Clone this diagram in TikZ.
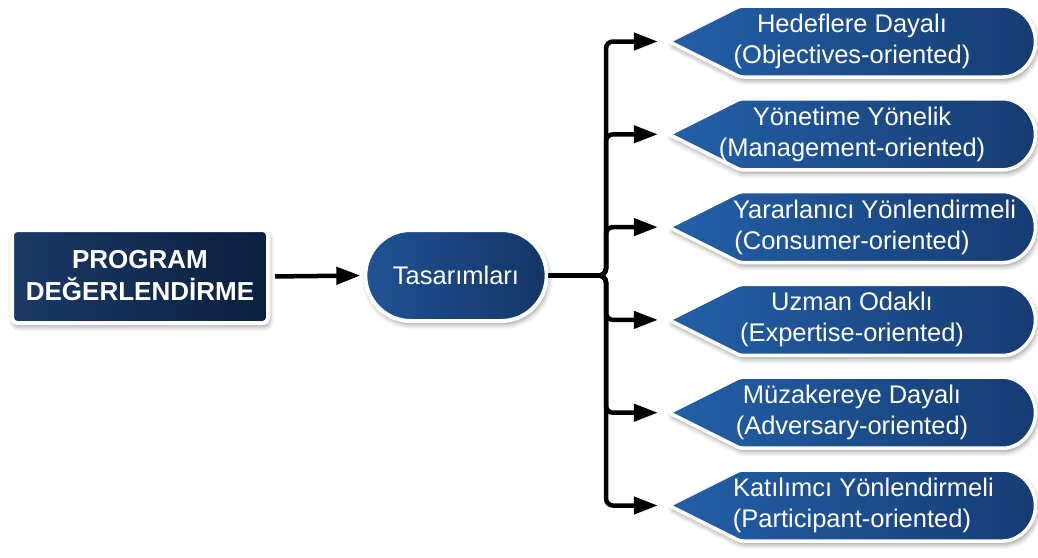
\documentclass[tikz,border=0pt]{standalone}
\usepackage{fontspec}
\setmainfont{Liberation Sans}
\usetikzlibrary{arrows.meta,shapes.misc,shadows.blur}
\definecolor{boxL}{HTML}{1A3A66}
\definecolor{boxR}{HTML}{0C1F3E}
\definecolor{tasL}{HTML}{1F5294}
\definecolor{tasR}{HTML}{143666}
\definecolor{shpL}{HTML}{2360A8}
\definecolor{shpR}{HTML}{163C72}
\begin{document}
\begin{tikzpicture}[x=1pt,y=-1pt,
  shd/.style={blur shadow={shadow xshift=1.5pt, shadow yshift=-3.5pt, shadow blur radius=5pt, shadow opacity=40, shadow blur steps=6}},
  txt/.style={text=white, font=\fontsize{25.5}{31}\selectfont, align=center},
  conn/.style={line width=4.5pt, draw=black},
  tipA/.style={-{Triangle[length=24pt,width=17pt]}},
]
\useasboundingbox (0,0) rectangle (1038,557);

\node[shd, draw=white, line width=4pt, rounded corners=5pt, left color=boxL, right color=boxR,
  minimum width=256pt, minimum height=93pt, txt, font=\bfseries\fontsize{26}{32}\selectfont]
  (p) at (140,276.5) {\raisebox{3pt}{PROGRAM}\\\raisebox{3pt}{DEĞERLENDİRME}};

\node[shd, rounded rectangle, draw=white, line width=4pt, left color=tasL, right color=tasR,
  minimum width=188pt, minimum height=91pt, txt] (t) at (456,275.5) {Tasarımları};

\draw[conn, tipA, shorten <=5pt, shorten >=3pt] (p.east) -- (t.west);

\foreach \i/\a/\b in {
  0/{Hedeflere Dayalı}/{(Objectives-oriented)},
  1/{Yönetime Yönelik}/{(Management-oriented)},
  2/{\makebox[238pt][l]{Yararlanıcı Yönlendirmeli}}/{(Consumer-oriented)},
  3/{Uzman Odaklı}/{(Expertise-oriented)},
  4/{Müzakereye Dayalı}/{(Adversary-oriented)},
  5/{\makebox[238pt][l]{Katılımcı Yönlendirmeli}}/{(Participant-oriented)}} {
  \pgfmathsetmacro\c{41.5+92.8*\i}
  \path[shd, draw=white, line width=3.5pt, left color=shpL, right color=shpR, rounded corners=3pt]
    (669,\c) -- (740,\c-35.5) -- (1000,\c-35.5) arc(-90:90:35.5) -- (740,\c+35.5) -- cycle;
  \node[txt, minimum width=366pt, minimum height=70pt, inner sep=0pt] (r\i) at (852,\c) {\a\\\b};
  \draw[conn, tipA, rounded corners=7pt, shorten >=11pt] (t.east) -- (606,275.5) |- (r\i.west);
}
\end{tikzpicture}
\end{document}
